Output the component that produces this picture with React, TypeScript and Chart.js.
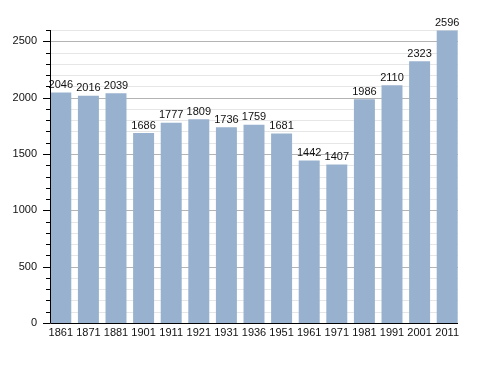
import React, { useEffect, useRef } from "react";
import { Chart, registerables } from "chart.js";

Chart.register(...registerables);

const years = ["1861", "1871", "1881", "1901", "1911", "1921", "1931", "1936", "1951", "1961", "1971", "1981", "1991", "2001", "2011"];
const population = [2046, 2016, 2039, 1686, 1777, 1809, 1736, 1759, 1681, 1442, 1407, 1986, 2110, 2323, 2596];

const FONT = "'Liberation Sans', Arial, Helvetica, sans-serif";
const AXIS_X = 50;
const GRID_RIGHT = 458;

const valueLabels = {
  id: "valueLabels",
  afterDatasetsDraw(chart: any) {
    const ctx = chart.ctx;
    const meta = chart.getDatasetMeta(0);
    ctx.save();
    ctx.font = `11px ${FONT}`;
    ctx.fillStyle = "#111";
    ctx.textAlign = "center";
    ctx.textBaseline = "bottom";
    meta.data.forEach((bar: any, i: number) => {
      ctx.fillText(String(population[i]), bar.x, bar.y - 2);
    });
    ctx.restore();
  },
};

const gridLines = {
  id: "gridLines",
  beforeDatasetsDraw(chart: any) {
    const ctx = chart.ctx;
    const y = chart.scales.y;
    ctx.save();
    ctx.lineWidth = 1;
    for (let v = 100; v <= 2600; v += 100) {
      const py = Math.round(y.getPixelForValue(v)) + 0.5;
      ctx.strokeStyle = v % 500 === 0 ? "#b4b4b4" : "#e6e6e6";
      ctx.beginPath();
      ctx.moveTo(AXIS_X, py);
      ctx.lineTo(GRID_RIGHT, py);
      ctx.stroke();
    }
    ctx.restore();
  },
};

const axisTicks = {
  id: "axisTicks",
  afterDraw(chart: any) {
    const ctx = chart.ctx;
    const y = chart.scales.y;
    const area = chart.chartArea;
    ctx.save();
    ctx.strokeStyle = "#000";
    ctx.lineWidth = 1;
    for (let v = 0; v <= 2600; v += 100) {
      const py = Math.round(y.getPixelForValue(v)) + 0.5;
      const len = v % 500 === 0 ? 7 : 4;
      ctx.beginPath();
      ctx.moveTo(AXIS_X - len, py);
      ctx.lineTo(AXIS_X, py);
      ctx.stroke();
    }
    const bottom = Math.round(y.getPixelForValue(0)) + 0.5;
    ctx.beginPath();
    ctx.moveTo(AXIS_X + 0.5, area.top);
    ctx.lineTo(AXIS_X + 0.5, bottom);
    ctx.lineTo(GRID_RIGHT, bottom);
    ctx.stroke();
    ctx.restore();
  },
};

export default function App() {
  const ref = useRef<HTMLCanvasElement>(null);
  useEffect(() => {
    const chart = new Chart(ref.current!, {
      type: "bar",
      data: {
        labels: years,
        datasets: [
          {
            data: population,
            backgroundColor: "rgb(151,177,206)",
            barPercentage: 0.76,
            categoryPercentage: 1,
          },
        ],
      },
      options: {
        animation: false,
        responsive: false,
        devicePixelRatio: 1,
        layout: { padding: { top: 30, right: 27, left: 0, bottom: 0 } },
        plugins: { legend: { display: false }, tooltip: { enabled: false } },
        scales: {
          x: {
            grid: { display: false, drawTicks: false },
            border: { display: false },
            ticks: { color: "#111", font: { family: FONT, size: 11 }, padding: 3, maxRotation: 0, autoSkip: false },
            afterFit(scale: any) {
              scale.height = 50;
            },
          },
          y: {
            min: 0,
            max: 2600,
            grid: { display: false, drawTicks: false },
            border: { display: false },
            ticks: {
              stepSize: 100,
              autoSkip: false,
              padding: 10,
              color: "#111",
              font: { family: FONT, size: 11 },
              callback: (v: any) => (Number(v) % 500 === 0 ? String(v) : ""),
            },
            afterFit(scale: any) {
              scale.width = 47;
            },
          },
        },
      },
      plugins: [gridLines, valueLabels, axisTicks],
    });
    return () => chart.destroy();
  }, []);
  return (
    <div style={{ position: "absolute", left: 0, top: 0, width: 488, height: 373, background: "#fff" }}>
      <canvas ref={ref} width={488} height={373} />
    </div>
  );
}
